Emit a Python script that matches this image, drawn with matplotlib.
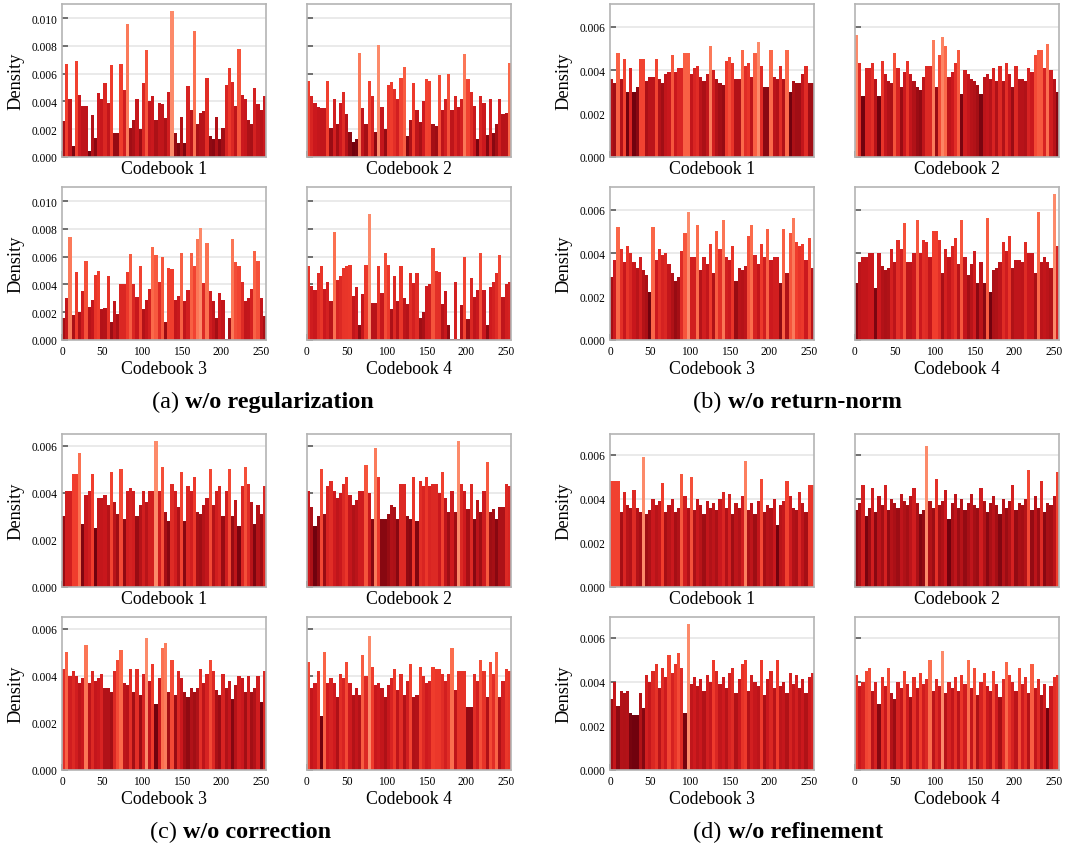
import numpy as np
import matplotlib.pyplot as plt
from matplotlib.ticker import MultipleLocator, FormatStrFormatter

plt.rcParams['font.family'] = 'Liberation Serif'

# usage density of the 256 codes, binned 4 codes per bar
codes = np.arange(0, 256, 4)

reg_cb1 = [0.0026, 0.0067, 0.0042, 0.0008, 0.0069, 0.0045, 0.0037, 0.0037, 0.0004, 0.0030, 0.0014, 0.0046, 0.0042, 0.0053, 0.0039, 0.0066,
           0.0017, 0.0017, 0.0067, 0.0048, 0.0096, 0.0021, 0.0027, 0.0042, 0.0020, 0.0053, 0.0077, 0.0040, 0.0044, 0.0027, 0.0039, 0.0038,
           0.0028, 0.0047, 0.0105, 0.0017, 0.0010, 0.0029, 0.0010, 0.0051, 0.0034, 0.0091, 0.0024, 0.0032, 0.0033, 0.0057, 0.0015, 0.0013,
           0.0029, 0.0013, 0.0021, 0.0052, 0.0064, 0.0054, 0.0037, 0.0078, 0.0045, 0.0042, 0.0027, 0.0024, 0.0050, 0.0038, 0.0034, 0.0044]
reg_cb2 = [0.0055, 0.0044, 0.0039, 0.0036, 0.0035, 0.0035, 0.0055, 0.0021, 0.0042, 0.0024, 0.0039, 0.0047, 0.0031, 0.0018, 0.0011, 0.0013,
           0.0075, 0.0035, 0.0024, 0.0055, 0.0044, 0.0018, 0.0081, 0.0036, 0.0020, 0.0052, 0.0054, 0.0049, 0.0042, 0.0057, 0.0065, 0.0015,
           0.0027, 0.0053, 0.0034, 0.0025, 0.0040, 0.0056, 0.0055, 0.0024, 0.0022, 0.0059, 0.0034, 0.0042, 0.0060, 0.0034, 0.0044, 0.0036,
           0.0042, 0.0074, 0.0056, 0.0047, 0.0037, 0.0013, 0.0044, 0.0039, 0.0016, 0.0042, 0.0017, 0.0024, 0.0042, 0.0031, 0.0032, 0.0068]
reg_cb3 = [0.0016, 0.0030, 0.0074, 0.0018, 0.0049, 0.0020, 0.0035, 0.0057, 0.0024, 0.0029, 0.0047, 0.0050, 0.0022, 0.0023, 0.0046, 0.0013,
           0.0028, 0.0019, 0.0040, 0.0040, 0.0049, 0.0062, 0.0040, 0.0031, 0.0053, 0.0022, 0.0029, 0.0037, 0.0067, 0.0061, 0.0042, 0.0060,
           0.0013, 0.0052, 0.0051, 0.0029, 0.0032, 0.0063, 0.0028, 0.0036, 0.0063, 0.0053, 0.0073, 0.0081, 0.0041, 0.0070, 0.0035, 0.0028,
           0.0016, 0.0034, 0.0029, 0.0001, 0.0016, 0.0073, 0.0056, 0.0053, 0.0042, 0.0028, 0.0030, 0.0037, 0.0064, 0.0057, 0.0030, 0.0017]
reg_cb4 = [0.0053, 0.0039, 0.0036, 0.0048, 0.0053, 0.0037, 0.0042, 0.0028, 0.0078, 0.0043, 0.0046, 0.0052, 0.0053, 0.0054, 0.0032, 0.0038,
           0.0011, 0.0033, 0.0054, 0.0091, 0.0027, 0.0027, 0.0053, 0.0034, 0.0063, 0.0054, 0.0022, 0.0046, 0.0028, 0.0053, 0.0030, 0.0026,
           0.0048, 0.0041, 0.0048, 0.0016, 0.0020, 0.0039, 0.0040, 0.0066, 0.0050, 0.0049, 0.0026, 0.0035, 0.0011, 0.0001, 0.0042, 0.0001,
           0.0025, 0.0060, 0.0015, 0.0045, 0.0031, 0.0036, 0.0063, 0.0036, 0.0011, 0.0038, 0.0042, 0.0048, 0.0061, 0.0031, 0.0040, 0.0042]

rn_cb1 = [0.0036, 0.0034, 0.0048, 0.0036, 0.0045, 0.0030, 0.0041, 0.0030, 0.0032, 0.0045, 0.0045, 0.0035, 0.0037, 0.0037, 0.0045, 0.0036,
          0.0034, 0.0038, 0.0039, 0.0047, 0.0039, 0.0041, 0.0041, 0.0048, 0.0048, 0.0038, 0.0041, 0.0042, 0.0037, 0.0035, 0.0038, 0.0051,
          0.0040, 0.0036, 0.0034, 0.0033, 0.0044, 0.0046, 0.0043, 0.0036, 0.0036, 0.0049, 0.0042, 0.0043, 0.0037, 0.0048, 0.0053, 0.0042,
          0.0032, 0.0032, 0.0049, 0.0037, 0.0036, 0.0042, 0.0036, 0.0049, 0.0030, 0.0035, 0.0034, 0.0034, 0.0038, 0.0042, 0.0034, 0.0034]
rn_cb2 = [0.0056, 0.0043, 0.0028, 0.0041, 0.0041, 0.0043, 0.0036, 0.0028, 0.0044, 0.0038, 0.0035, 0.0034, 0.0048, 0.0041, 0.0032, 0.0039,
          0.0044, 0.0038, 0.0035, 0.0032, 0.0031, 0.0037, 0.0042, 0.0042, 0.0054, 0.0032, 0.0047, 0.0055, 0.0051, 0.0037, 0.0039, 0.0043,
          0.0049, 0.0029, 0.0040, 0.0038, 0.0036, 0.0035, 0.0033, 0.0029, 0.0037, 0.0038, 0.0036, 0.0041, 0.0035, 0.0042, 0.0035, 0.0043,
          0.0038, 0.0032, 0.0042, 0.0036, 0.0036, 0.0035, 0.0041, 0.0039, 0.0047, 0.0049, 0.0049, 0.0041, 0.0052, 0.0040, 0.0036, 0.0030]
rn_cb3 = [0.0029, 0.0037, 0.0052, 0.0042, 0.0036, 0.0043, 0.0040, 0.0036, 0.0033, 0.0038, 0.0032, 0.0030, 0.0022, 0.0052, 0.0037, 0.0042,
          0.0039, 0.0040, 0.0035, 0.0031, 0.0027, 0.0029, 0.0041, 0.0049, 0.0059, 0.0038, 0.0038, 0.0053, 0.0032, 0.0038, 0.0035, 0.0044,
          0.0031, 0.0050, 0.0042, 0.0055, 0.0038, 0.0037, 0.0043, 0.0027, 0.0033, 0.0032, 0.0034, 0.0048, 0.0053, 0.0039, 0.0035, 0.0044,
          0.0038, 0.0051, 0.0037, 0.0038, 0.0038, 0.0026, 0.0051, 0.0031, 0.0049, 0.0056, 0.0045, 0.0043, 0.0044, 0.0037, 0.0047, 0.0033]
rn_cb4 = [0.0026, 0.0036, 0.0038, 0.0038, 0.0040, 0.0040, 0.0024, 0.0040, 0.0034, 0.0032, 0.0033, 0.0042, 0.0036, 0.0046, 0.0042, 0.0054,
          0.0036, 0.0036, 0.0040, 0.0055, 0.0040, 0.0046, 0.0045, 0.0038, 0.0050, 0.0050, 0.0046, 0.0031, 0.0042, 0.0038, 0.0043, 0.0047,
          0.0035, 0.0055, 0.0038, 0.0030, 0.0035, 0.0041, 0.0026, 0.0036, 0.0026, 0.0056, 0.0022, 0.0032, 0.0033, 0.0036, 0.0045, 0.0041,
          0.0048, 0.0033, 0.0037, 0.0037, 0.0036, 0.0045, 0.0040, 0.0040, 0.0031, 0.0059, 0.0036, 0.0038, 0.0036, 0.0033, 0.0067, 0.0043]

corr_cb1 = [0.0030, 0.0041, 0.0041, 0.0048, 0.0048, 0.0057, 0.0027, 0.0039, 0.0041, 0.0048, 0.0025, 0.0038, 0.0038, 0.0039, 0.0035, 0.0049,
            0.0036, 0.0031, 0.0050, 0.0029, 0.0041, 0.0042, 0.0041, 0.0030, 0.0035, 0.0041, 0.0036, 0.0041, 0.0041, 0.0062, 0.0041, 0.0051,
            0.0032, 0.0028, 0.0044, 0.0041, 0.0034, 0.0049, 0.0028, 0.0043, 0.0041, 0.0047, 0.0032, 0.0031, 0.0035, 0.0038, 0.0050, 0.0035,
            0.0041, 0.0043, 0.0030, 0.0041, 0.0050, 0.0030, 0.0037, 0.0026, 0.0043, 0.0051, 0.0044, 0.0036, 0.0027, 0.0035, 0.0031, 0.0043]
corr_cb2 = [0.0041, 0.0034, 0.0026, 0.0030, 0.0050, 0.0031, 0.0043, 0.0045, 0.0041, 0.0038, 0.0040, 0.0044, 0.0047, 0.0039, 0.0035, 0.0037,
            0.0041, 0.0041, 0.0052, 0.0040, 0.0029, 0.0059, 0.0047, 0.0029, 0.0029, 0.0031, 0.0035, 0.0034, 0.0029, 0.0044, 0.0044, 0.0030,
            0.0029, 0.0047, 0.0028, 0.0045, 0.0043, 0.0047, 0.0043, 0.0044, 0.0044, 0.0040, 0.0049, 0.0038, 0.0032, 0.0041, 0.0032, 0.0062,
            0.0044, 0.0041, 0.0033, 0.0044, 0.0029, 0.0037, 0.0032, 0.0041, 0.0053, 0.0032, 0.0033, 0.0029, 0.0034, 0.0034, 0.0044, 0.0043]
corr_cb3 = [0.0043, 0.0050, 0.0040, 0.0042, 0.0040, 0.0037, 0.0039, 0.0053, 0.0037, 0.0042, 0.0038, 0.0039, 0.0041, 0.0035, 0.0035, 0.0033,
            0.0042, 0.0047, 0.0051, 0.0037, 0.0036, 0.0043, 0.0033, 0.0043, 0.0032, 0.0041, 0.0056, 0.0038, 0.0045, 0.0028, 0.0039, 0.0052,
            0.0054, 0.0033, 0.0047, 0.0032, 0.0042, 0.0039, 0.0033, 0.0031, 0.0035, 0.0033, 0.0035, 0.0043, 0.0037, 0.0041, 0.0047, 0.0042,
            0.0034, 0.0032, 0.0041, 0.0035, 0.0038, 0.0030, 0.0036, 0.0040, 0.0039, 0.0033, 0.0040, 0.0033, 0.0035, 0.0040, 0.0029, 0.0042]
corr_cb4 = [0.0046, 0.0035, 0.0037, 0.0042, 0.0023, 0.0050, 0.0037, 0.0039, 0.0037, 0.0031, 0.0041, 0.0039, 0.0046, 0.0037, 0.0032, 0.0035,
            0.0032, 0.0049, 0.0040, 0.0057, 0.0044, 0.0036, 0.0037, 0.0035, 0.0031, 0.0036, 0.0039, 0.0043, 0.0034, 0.0041, 0.0032, 0.0038,
            0.0045, 0.0031, 0.0032, 0.0044, 0.0040, 0.0037, 0.0038, 0.0044, 0.0043, 0.0043, 0.0041, 0.0038, 0.0041, 0.0052, 0.0034, 0.0042,
            0.0042, 0.0042, 0.0027, 0.0027, 0.0041, 0.0038, 0.0047, 0.0042, 0.0031, 0.0046, 0.0041, 0.0050, 0.0031, 0.0038, 0.0043, 0.0042]

ref_cb1 = [0.0048, 0.0048, 0.0048, 0.0034, 0.0043, 0.0037, 0.0036, 0.0044, 0.0036, 0.0034, 0.0059, 0.0033, 0.0035, 0.0040, 0.0037, 0.0039,
           0.0047, 0.0034, 0.0037, 0.0040, 0.0034, 0.0036, 0.0051, 0.0041, 0.0036, 0.0050, 0.0035, 0.0040, 0.0037, 0.0033, 0.0039, 0.0036,
           0.0038, 0.0035, 0.0040, 0.0043, 0.0036, 0.0042, 0.0033, 0.0038, 0.0036, 0.0041, 0.0057, 0.0035, 0.0038, 0.0033, 0.0039, 0.0049,
           0.0034, 0.0037, 0.0036, 0.0040, 0.0028, 0.0037, 0.0039, 0.0048, 0.0041, 0.0036, 0.0035, 0.0043, 0.0038, 0.0034, 0.0046, 0.0046]
ref_cb2 = [0.0035, 0.0038, 0.0046, 0.0032, 0.0036, 0.0045, 0.0034, 0.0041, 0.0037, 0.0046, 0.0035, 0.0040, 0.0038, 0.0036, 0.0042, 0.0039,
           0.0037, 0.0041, 0.0045, 0.0038, 0.0033, 0.0035, 0.0064, 0.0039, 0.0036, 0.0049, 0.0037, 0.0039, 0.0044, 0.0031, 0.0038, 0.0042,
           0.0036, 0.0040, 0.0035, 0.0038, 0.0042, 0.0037, 0.0036, 0.0045, 0.0039, 0.0034, 0.0038, 0.0041, 0.0037, 0.0033, 0.0040, 0.0036,
           0.0039, 0.0046, 0.0035, 0.0038, 0.0037, 0.0040, 0.0053, 0.0035, 0.0041, 0.0036, 0.0048, 0.0034, 0.0038, 0.0037, 0.0041, 0.0052]
ref_cb3 = [0.0032, 0.0040, 0.0029, 0.0036, 0.0035, 0.0036, 0.0026, 0.0025, 0.0025, 0.0035, 0.0028, 0.0043, 0.0040, 0.0045, 0.0048, 0.0037,
           0.0046, 0.0042, 0.0052, 0.0044, 0.0048, 0.0053, 0.0046, 0.0026, 0.0066, 0.0039, 0.0042, 0.0038, 0.0041, 0.0036, 0.0043, 0.0040,
           0.0050, 0.0045, 0.0039, 0.0042, 0.0037, 0.0044, 0.0046, 0.0035, 0.0041, 0.0048, 0.0050, 0.0036, 0.0043, 0.0040, 0.0038, 0.0050,
           0.0034, 0.0041, 0.0045, 0.0037, 0.0050, 0.0038, 0.0040, 0.0035, 0.0044, 0.0039, 0.0043, 0.0037, 0.0041, 0.0035, 0.0042, 0.0044]
ref_cb4 = [0.0043, 0.0038, 0.0040, 0.0045, 0.0046, 0.0036, 0.0040, 0.0030, 0.0042, 0.0038, 0.0046, 0.0035, 0.0032, 0.0040, 0.0037, 0.0045,
           0.0039, 0.0033, 0.0042, 0.0037, 0.0044, 0.0039, 0.0041, 0.0050, 0.0036, 0.0041, 0.0038, 0.0054, 0.0035, 0.0040, 0.0037, 0.0042,
           0.0036, 0.0043, 0.0039, 0.0050, 0.0037, 0.0046, 0.0034, 0.0040, 0.0044, 0.0038, 0.0036, 0.0045, 0.0039, 0.0033, 0.0041, 0.0049,
           0.0043, 0.0040, 0.0036, 0.0046, 0.0039, 0.0042, 0.0035, 0.0048, 0.0037, 0.0041, 0.0034, 0.0039, 0.0028, 0.0038, 0.0042, 0.0043]

groups = [
    ("(a) ", "w/o regularization", [reg_cb1, reg_cb2, reg_cb3, reg_cb4]),
    ("(b) ", "w/o return-norm", [rn_cb1, rn_cb2, rn_cb3, rn_cb4]),
    ("(c) ", "w/o correction", [corr_cb1, corr_cb2, corr_cb3, corr_cb4]),
    ("(d) ", "w/o refinement", [ref_cb1, ref_cb2, ref_cb3, ref_cb4]),
]

W, H = 1068, 845
fig = plt.figure(figsize=(W / 100, H / 100), dpi=100)

def px_axes(left, top, w=204, h=153):
    return fig.add_axes([left / W, 1 - (top + h) / H, w / W, h / H])

group_origin = [(62, 5), (610, 5), (62, 435), (610, 435)]
caption_pos = [(152, 408), (693, 408), (150, 838), (693, 838)]

captions = []
for g, (tag, name, books) in enumerate(groups):
    gx, gy = group_origin[g]
    ymax = 1.05 * max(max(b) for b in books)
    for k, vals in enumerate(books):
        row, col = divmod(k, 2)
        ax = px_axes(gx + col * 245, gy + row * 183)
        vals = np.array(vals)
        t = (vals - vals.min()) / (vals.max() - vals.min())
        colors = plt.cm.Reds_r(0.02 + 0.58 * t)
        ax.bar(codes, vals, width=4, align='edge', color=colors, linewidth=0)
        ax.set_xlim(0, 256)
        ax.set_ylim(0, ymax)
        ax.yaxis.set_major_locator(MultipleLocator(0.002))
        ax.yaxis.set_major_formatter(FormatStrFormatter('%.3f'))
        ax.xaxis.set_major_locator(MultipleLocator(50))
        ax.set_axisbelow(True)
        ax.grid(axis='y', color='#e8e8e8', linewidth=1.3)
        for s in ax.spines.values():
            s.set_color('#b4b4b4')
            s.set_linewidth(1.2)
        ax.tick_params(direction='in', length=4, width=1.3, color='#666666',
                       labelsize=8.3, pad=3.5)
        if row == 0:
            ax.tick_params(axis='x', labelbottom=False)
        if col == 1:
            ax.tick_params(axis='y', labelleft=False)
        else:
            ax.set_ylabel('Density', fontsize=13.2, labelpad=5)
        ax.set_xlabel(f'Codebook {k + 1}', fontsize=12.8, labelpad=2)
    cx, cy = caption_pos[g]
    t1 = fig.text(cx / W, 1 - cy / H, tag, fontsize=17.5, va='baseline', ha='left')
    t2 = fig.text(cx / W, 1 - cy / H, name, fontsize=17.5, fontweight='bold',
                  va='baseline', ha='left')
    captions.append((t1, t2))

fig.canvas.draw()
for t1, t2 in captions:
    x1 = t1.get_window_extent().x1
    t2.set_x(x1 / W)

fig.savefig('out.png', dpi=100)
